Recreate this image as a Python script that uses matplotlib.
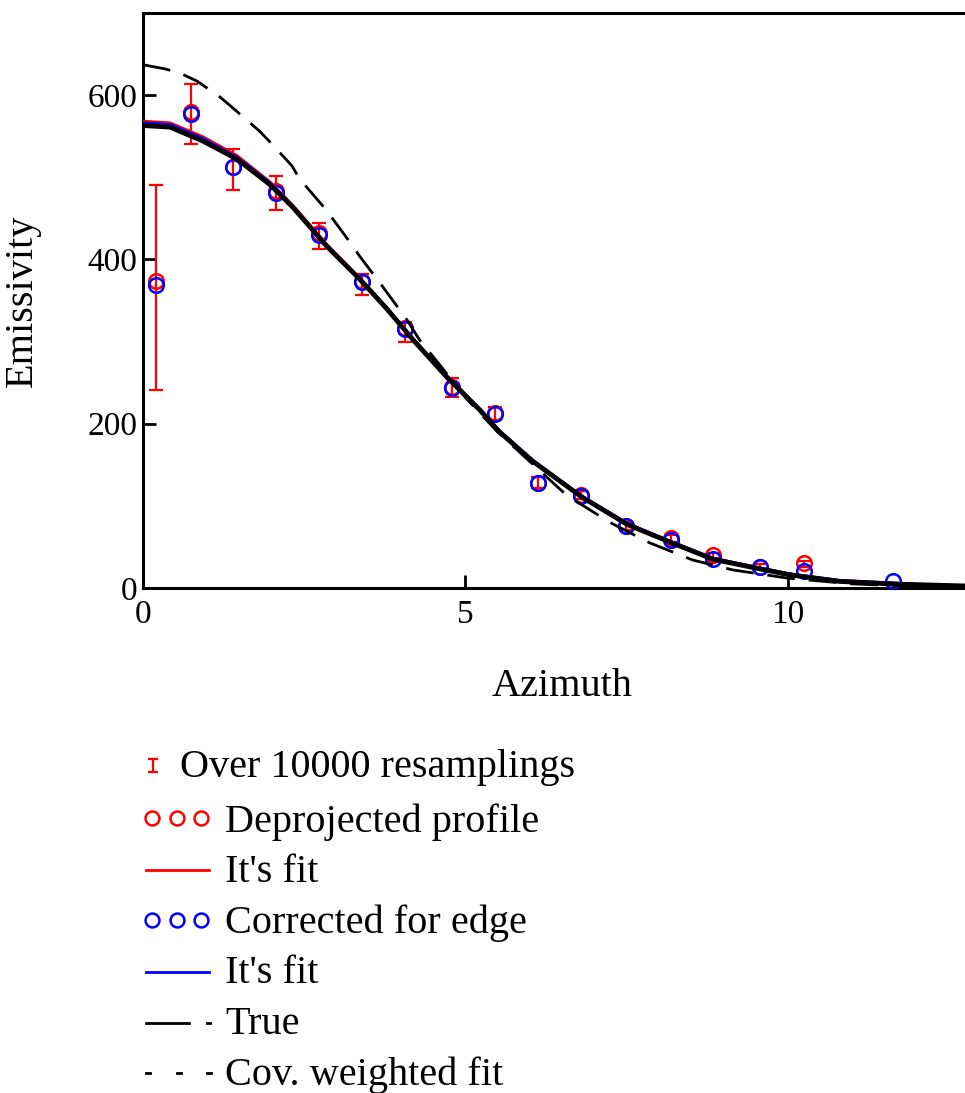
import matplotlib
matplotlib.use("Agg")
import matplotlib.pyplot as plt
from matplotlib.lines import Line2D
import numpy as np

plt.rcParams['font.family'] = ['Liberation Serif', 'DejaVu Serif']

# deprojected profile (red) and edge corrected (blue)
azimuth = [0.20, 0.74, 1.40, 2.06, 2.73, 3.40, 4.06, 4.79, 5.46, 6.12, 6.79,
           7.50, 8.19, 8.85, 9.57, 10.25]
deproj = [374, 580, 513, 483, 432, 374, 316, 245, 213, 128, 113,
          76, 61, 40, 26, 30]
err_lo = [241, 540, 485, 460, 413, 357, 300, 232, 205, 122, 108,
          71, 56, 36, 23, 26]
err_hi = [491, 613, 534, 501, 444, 382, 324, 256, 220, 135, 118,
          80, 64, 43, 29, 33]
azimuth_c = [0.20, 0.74, 1.40, 2.06, 2.73, 3.40, 4.06, 4.79, 5.46, 6.12, 6.79,
             7.50, 8.19, 8.85, 9.57, 10.25, 11.63]
corrected = [369, 577, 512, 481, 430, 372, 315, 243, 212, 128, 112,
             75, 59, 35, 25, 21, 8]

# curves
x_true = [0, 0.42, 0.93, 1.46, 1.97, 2.33, 2.85, 3.36, 3.78, 4.19, 4.71, 5.22,
          5.53, 6.05, 6.8, 7.52, 8.2, 8.84, 9.52, 10.03, 10.8, 11.58, 12.05, 13]
y_true = [563, 561, 544, 522, 491, 463, 416, 376, 340, 302, 257, 217,
          190, 154, 111, 77, 55, 35, 24, 16, 8, 5, 4, 2]
x_fit = [0, 0.42, 0.93, 1.46, 1.97, 2.33, 2.85, 3.36, 3.78, 4.19, 4.71, 5.22,
         5.53, 6.05, 6.8, 7.52, 8.2, 8.84, 9.52, 10.03, 10.8, 11.58, 12.05, 13]
y_fit_red = [568, 566, 549, 526, 494, 465, 418, 377, 341, 303, 258, 218,
             191, 155, 112, 78, 56, 36, 25, 17, 9, 6, 4, 2]
y_fit_blue = [566, 564, 547, 524, 493, 464, 417, 377, 341, 303, 258, 218,
              191, 155, 112, 78, 56, 36, 25, 17, 9, 6, 4, 2]
x_cov = [0, 0.34, 0.57, 0.84, 1.19, 1.40, 1.81, 1.97, 2.31, 2.43, 2.78, 2.90,
         3.21, 3.36, 3.67, 4.09, 4.29, 4.60, 5.0, 5.5, 6.57, 7.24, 7.86, 8.53,
         9.15, 10.0, 11.0, 12.0, 13.0]
y_cov = [637, 632, 627, 617, 598, 584, 556, 543, 514, 498, 466, 454,
         421, 404, 372, 327, 302, 272, 232, 190, 113, 80, 55, 34,
         22, 12, 5, 2, 1]

W, H = 965, 1093
fig = plt.figure(figsize=(W / 100, H / 100), dpi=100)
ax = fig.add_axes([143 / W, 1 - 588 / H, 838 / W, 575 / H])

yerr = [np.array(deproj) - np.array(err_lo), np.array(err_hi) - np.array(deproj)]
ax.errorbar(azimuth, deproj, yerr=yerr, fmt='none', ecolor='#ff0000',
            elinewidth=1.6, capsize=4.7, capthick=1.6, zorder=2)
ax.plot(azimuth, deproj, 'o', mfc='none', mec='#ff0000', ms=10.5, mew=1.8, zorder=3)
ax.plot(azimuth_c, corrected, 'o', mfc='none', mec='#0000ff', ms=10.5, mew=1.8, zorder=3.5)
ax.plot(x_fit, y_fit_red, color='#ff0000', lw=2.4, zorder=4)
ax.plot(x_fit, y_fit_blue, color='#0000ff', lw=2.4, zorder=4.5)
ax.plot(x_true, y_true, color='black', lw=3.4, zorder=5)
ax.plot(x_cov, y_cov, color='black', lw=2.0, dashes=(10, 5), zorder=5)

ax.set_xlim(0, 13)
ax.set_ylim(0, 700)
ax.set_xticks([0, 5, 10])
ax.set_yticks([0, 200, 400, 600])
for s in ['left', 'top', 'bottom', 'right']:
    ax.spines[s].set_linewidth(2.2)
ax.tick_params(direction='in', length=9.5, width=2.0, labelsize=24,
               right=True, top=False)
ax.tick_params(axis='x', pad=8)
ax.tick_params(axis='y', pad=4)

ax.set_xlabel('Azimuth', fontsize=29)
ax.xaxis.set_label_coords(0.5, -0.14)
ax.set_ylabel('Emissivity', fontsize=29)
ax.yaxis.set_label_coords(-0.122, 0.5)


# legend drawn below the axes, Mathcad style
def fx(px):
    return px / W


def fy(py):
    return 1 - py / H


def seg(x0, x1, y0, y1, color, lw):
    fig.add_artist(Line2D([fx(x0), fx(x1)], [fy(y0), fy(y1)], color=color,
                          lw=lw, transform=fig.transFigure))


# errorbar symbol
seg(153, 153, 759, 772, '#ff0000', 1.6)
seg(149, 157, 759, 759, '#ff0000', 1.6)
seg(149, 157, 772, 772, '#ff0000', 1.6)
# circles
for yy, col in [(818, '#ff0000'), (920, '#0000ff')]:
    fig.add_artist(Line2D([fx(152), fx(177), fx(201)], [fy(yy)] * 3, ls='none',
                          marker='o', mfc='none', mec=col, ms=10, mew=1.8,
                          transform=fig.transFigure))
seg(146, 209, 870, 870, '#ff0000', 2.0)
seg(146, 209, 972, 972, '#0000ff', 2.0)
seg(146, 189, 1023, 1023, 'black', 2.0)
seg(207, 210, 1023, 1023, 'black', 2.0)
for xx in [148, 179, 209]:
    seg(xx - 2, xx + 2, 1073, 1073, 'black', 2.0)

labels = ['Over 10000 resamplings', 'Deprojected profile', "It's fit",
          'Corrected for edge', "It's fit", 'True', 'Cov. weighted fit']
baselines = [777, 832, 882, 933, 983, 1034, 1085]
starts = [180, 225, 225, 225, 225, 225, 225]
for lab, b, s in zip(labels, baselines, starts):
    fig.text(fx(s), fy(b), lab, fontsize=29, va='baseline', ha='left')

fig.savefig('out.png', dpi=100)
